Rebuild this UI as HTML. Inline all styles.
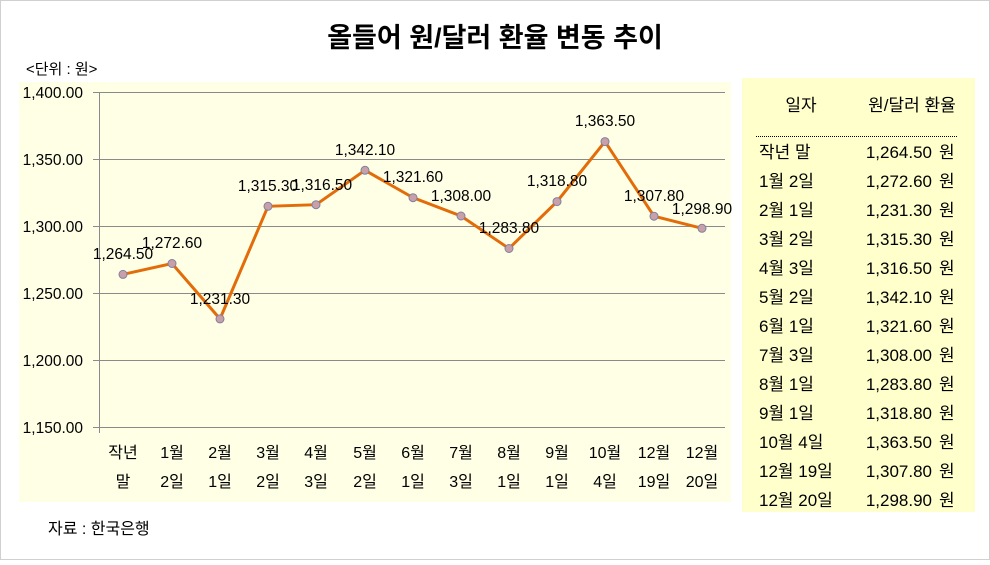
<!DOCTYPE html>
<html><head><meta charset="utf-8"><style>
body{margin:0;width:990px;height:560px;background:#fff;overflow:hidden;font-family:"Liberation Sans","Noto Sans CJK KR",sans-serif;}
</style></head><body>
<svg width="990" height="560" xmlns="http://www.w3.org/2000/svg" font-family="Liberation Sans, Noto Sans CJK KR, sans-serif" xml:space="preserve">
<rect x="0.5" y="0.5" width="989" height="559" fill="#fff" stroke="#d0d0d0"/>
<text x="495" y="47" text-anchor="middle" font-size="27" font-weight="bold" fill="#000">올들어 원/달러 환율 변동 추이</text>
<text x="26" y="74" font-size="15">&lt;단위 : 원&gt;</text>
<rect x="19" y="82" width="712" height="420" fill="#FFFFE6"/>
<g stroke="#8a8a8a" stroke-width="1">
<line x1="93" y1="92.5" x2="725" y2="92.5"/>
<line x1="93" y1="159.5" x2="725" y2="159.5"/>
<line x1="93" y1="226.5" x2="725" y2="226.5"/>
<line x1="93" y1="293.5" x2="725" y2="293.5"/>
<line x1="93" y1="360.5" x2="725" y2="360.5"/>
<line x1="93" y1="427.5" x2="725" y2="427.5"/>
<line x1="99.5" y1="92" x2="99.5" y2="433"/>
</g>
<g font-size="15.5" text-anchor="end" fill="#000">
<text x="83" y="98">1,400.00</text><text x="83" y="165">1,350.00</text><text x="83" y="232">1,300.00</text>
<text x="83" y="299">1,250.00</text><text x="83" y="366">1,200.00</text><text x="83" y="433">1,150.00</text>
</g>
<polyline fill="none" stroke="#E36C0A" stroke-width="3" points="123,274.4 172,263.5 220,318.9 268,206.3 316,204.7 365,170.3 413,197.7 461,216 509,248.5 557,201.6 605,141.6 654,216.2 702,228.3"/>
<g fill="#C9A0A8" stroke="#8080A0" stroke-width="1">
<circle cx="123" cy="274.4" r="4"/><circle cx="172" cy="263.5" r="4"/><circle cx="220" cy="318.9" r="4"/><circle cx="268" cy="206.3" r="4"/><circle cx="316" cy="204.7" r="4"/><circle cx="365" cy="170.3" r="4"/><circle cx="413" cy="197.7" r="4"/><circle cx="461" cy="216" r="4"/><circle cx="509" cy="248.5" r="4"/><circle cx="557" cy="201.6" r="4"/><circle cx="605" cy="141.6" r="4"/><circle cx="654" cy="216.2" r="4"/><circle cx="702" cy="228.3" r="4"/>
</g>
<g font-size="15.5" text-anchor="middle">
<text x="123" y="259">1,264.50</text><text x="172" y="248">1,272.60</text><text x="220" y="304">1,231.30</text>
<text x="268" y="191">1,315.30</text><text x="322" y="190">1,316.50</text><text x="365" y="155">1,342.10</text>
<text x="413" y="182">1,321.60</text><text x="461" y="201">1,308.00</text><text x="509" y="233">1,283.80</text>
<text x="557" y="186">1,318.80</text><text x="605" y="126">1,363.50</text><text x="654" y="201">1,307.80</text><text x="702" y="214">1,298.90</text>
</g>
<g font-size="16" text-anchor="middle">
<text x="123" y="458">작년</text><text x="123" y="487">말</text>
<text x="172" y="458">1월</text><text x="172" y="487">2일</text>
<text x="220" y="458">2월</text><text x="220" y="487">1일</text>
<text x="268" y="458">3월</text><text x="268" y="487">2일</text>
<text x="316" y="458">4월</text><text x="316" y="487">3일</text>
<text x="365" y="458">5월</text><text x="365" y="487">2일</text>
<text x="413" y="458">6월</text><text x="413" y="487">1일</text>
<text x="461" y="458">7월</text><text x="461" y="487">3일</text>
<text x="509" y="458">8월</text><text x="509" y="487">1일</text>
<text x="557" y="458">9월</text><text x="557" y="487">1일</text>
<text x="605" y="458">10월</text><text x="605" y="487">4일</text>
<text x="654" y="458">12월</text><text x="654" y="487">19일</text>
<text x="702" y="458">12월</text><text x="702" y="487">20일</text>
</g>
<text x="48" y="534" font-size="16">자료 : 한국은행</text>
<rect x="742" y="78" width="233" height="434" fill="#FFFFCC"/>
<text x="801" y="111" font-size="17" text-anchor="middle">일자</text>
<text x="912" y="111" font-size="17" text-anchor="middle">원/달러 환율</text>
<line x1="756" y1="136.5" x2="958" y2="136.5" stroke="#000" stroke-dasharray="1,1"/>
<g font-size="17">
<text x="759" y="158">작년 말</text>
<text x="759" y="187">1월  2일</text>
<text x="759" y="216">2월  1일</text>
<text x="759" y="245">3월  2일</text>
<text x="759" y="274">4월  3일</text>
<text x="759" y="303">5월  2일</text>
<text x="759" y="332">6월  1일</text>
<text x="759" y="361">7월  3일</text>
<text x="759" y="390">8월  1일</text>
<text x="759" y="419">9월  1일</text>
<text x="759" y="448">10월 4일</text>
<text x="759" y="477">12월 19일</text>
<text x="759" y="506">12월 20일</text>
</g>
<g font-size="17" text-anchor="end">
<text x="932" y="158">1,264.50</text><text x="932" y="187">1,272.60</text><text x="932" y="216">1,231.30</text>
<text x="932" y="245">1,315.30</text><text x="932" y="274">1,316.50</text><text x="932" y="303">1,342.10</text>
<text x="932" y="332">1,321.60</text><text x="932" y="361">1,308.00</text><text x="932" y="390">1,283.80</text>
<text x="932" y="419">1,318.80</text><text x="932" y="448">1,363.50</text><text x="932" y="477">1,307.80</text><text x="932" y="506">1,298.90</text>
</g>
<g font-size="17">
<text x="939" y="158">원</text><text x="939" y="187">원</text><text x="939" y="216">원</text><text x="939" y="245">원</text>
<text x="939" y="274">원</text><text x="939" y="303">원</text><text x="939" y="332">원</text><text x="939" y="361">원</text>
<text x="939" y="390">원</text><text x="939" y="419">원</text><text x="939" y="448">원</text><text x="939" y="477">원</text><text x="939" y="506">원</text>
</g>
</svg>
</body></html>
